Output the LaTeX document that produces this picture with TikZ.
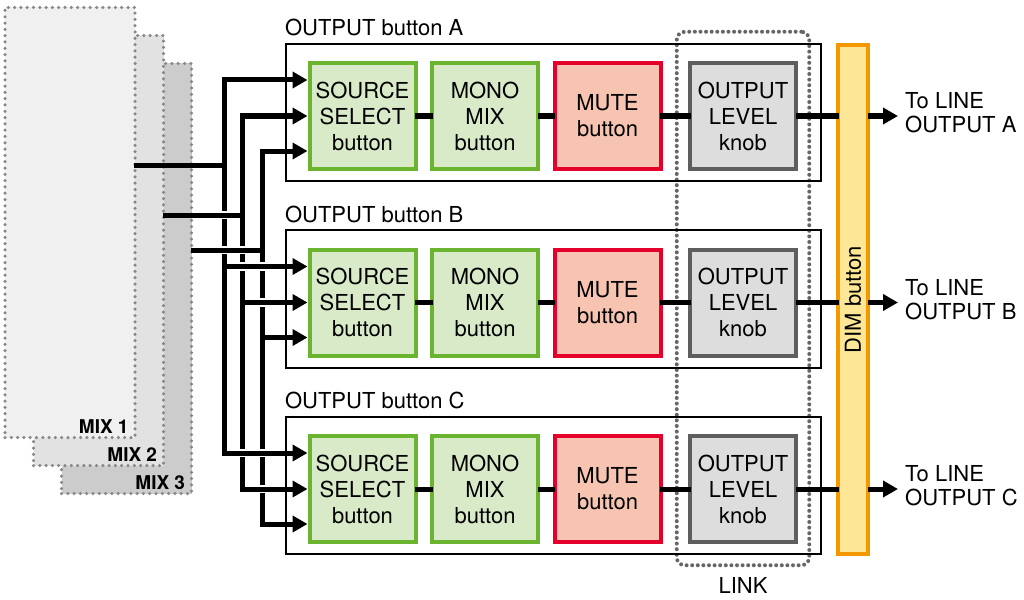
\documentclass[tikz,border=0pt]{standalone}
\usepackage{fontspec}
\setmainfont{TeX Gyre Heros}
\usetikzlibrary{arrows.meta}

\definecolor{selgreen}{HTML}{6BB42F}
\definecolor{selfill}{HTML}{D9EAC9}
\definecolor{mutered}{HTML}{E4002B}
\definecolor{mutefill}{HTML}{F6C4B0}
\definecolor{knobgray}{HTML}{5E5E5E}
\definecolor{knobfill}{HTML}{DCDDDC}
\definecolor{dimorange}{HTML}{F39800}
\definecolor{dimfill}{HTML}{FDE796}
\definecolor{mixa}{HTML}{F0F0F0}
\definecolor{mixb}{HTML}{E1E2E1}
\definecolor{mixc}{HTML}{CBCCCB}
\definecolor{mixdot}{HTML}{888888}
\definecolor{linkdot}{HTML}{666666}

\begin{document}
\begin{tikzpicture}[x=1pt,y=-1pt,
  every node/.style={font=\fontsize{22}{26}\selectfont},
  mixpanel/.style={draw=mixdot,line width=3.5pt,dash pattern=on 0pt off 6.3pt,
    line cap=round,minimum width=130pt,minimum height=430pt},
  mixlabel/.style={font=\fontsize{19}{20}\selectfont\bfseries,anchor=base east,inner sep=0pt},
  unit/.style={line width=4pt,minimum width=106pt,minimum height=106pt,align=center,inner sep=0pt},
  srcbox/.style={unit,draw=selgreen,fill=selfill},
  mutebox/.style={unit,draw=mutered,fill=mutefill},
  knobbox/.style={unit,draw=knobgray,fill=knobfill},
  grpframe/.style={draw,line width=1.8pt,minimum width=535.5pt,minimum height=137.5pt},
  linkframe/.style={draw=linkdot,line width=4pt,dash pattern=on 0pt off 5.6pt,line cap=round,
    rounded corners=8pt,minimum width=132.5pt,minimum height=533.5pt},
  dimbox/.style={draw=dimorange,fill=dimfill,line width=4pt,minimum width=30pt,minimum height=509pt},
  wire/.style={line width=5pt,line cap=rect},
  mixwire/.style={wire,preaction={draw=white,line width=8.5pt,line cap=butt,shorten <=#1,shorten >=2.5pt}},
  feed/.style={wire,-{Triangle[length=15pt,width=16pt]},
    preaction={draw=white,line width=8.5pt,line cap=butt,-,shorten <=2.5pt,shorten >=30pt}}
  ]
  \useasboundingbox (0,0) rectangle (1024,599);

  % mix panels, back to front
  \node[mixpanel,fill=mixc] (mix3) at (126.5,278.5) {};
  \node[mixlabel] (mixlbl3) at ([xshift=-8pt,yshift=6pt]mix3.south east) {MIX 3};
  \node[mixpanel,fill=mixb] (mix2) at (98.5,250.5) {};
  \node[mixlabel] (mixlbl2) at ([xshift=-8pt,yshift=6pt]mix2.south east) {MIX 2};
  \node[mixpanel,fill=mixa] (mix1) at (70,222.5) {};
  \node[mixlabel] (mixlbl1) at ([xshift=-8pt,yshift=6pt]mix1.south east) {MIX 1};

  % link frame
  \node[linkframe] (link) at (743,298.5) {};
  \node[anchor=base] (linklbl) at ([yshift=-26.5pt]link.south) {LINK};

  % output rows
  \foreach \r/\cy in {A/116,B/302.5,C/489} {
    \node[grpframe] (grp-\r) at (553.5,\cy-3.5) {};
    \node[anchor=base west,inner sep=0pt] (grplbl-\r) at ([yshift=7pt]grp-\r.north west) {OUTPUT button \r};
    \node[srcbox] (src-\r) at (362.5,\cy) {SOURCE\\SELECT\\button};
    \node[srcbox] (mono-\r) at (485,\cy) {MONO\\MIX\\button};
    \node[mutebox] (mute-\r) at (607.5,\cy) {MUTE\\button};
    \node[knobbox] (level-\r) at (743,\cy) {OUTPUT\\LEVEL\\knob};
    \node[anchor=west,align=left,inner xsep=7pt,inner ysep=0pt,
      font=\fontsize{22}{24}\selectfont] (out-\r) at (898,\cy-3) {To LINE\\OUTPUT \r};
    \coordinate (in1-\r) at ([yshift=36pt]src-\r.west);
    \coordinate (in2-\r) at (src-\r.west);
    \coordinate (in3-\r) at ([yshift=-35pt]src-\r.west);
    \draw[wire] (src-\r) -- (mono-\r);
    \draw[wire] (mono-\r) -- (mute-\r);
    \draw[wire] (mute-\r) -- (level-\r);
  }

  % buses
  \coordinate (j1) at (224,165);
  \coordinate (j2) at (242,215);
  \coordinate (j3) at (262,250);
  \draw[wire] (in1-A -| j1) -- (in1-C -| j1);
  \draw[wire] (in2-A -| j2) -- (in2-C -| j2);
  \draw[wire] (in3-A -| j3) -- (in3-C -| j3);
  \draw[wire] (mix1.east |- j1) -- (j1);
  \draw[mixwire=40pt] (mix2.east |- j2) -- (j2);
  \draw[mixwire=20pt] (mix3.east |- j3) -- (j3);
  \foreach \r in {A,B,C} {
    \draw[feed] (in1-\r -| j1) -- (in1-\r);
    \draw[feed] (in2-\r -| j2) -- (in2-\r);
    \draw[feed] (in3-\r -| j3) -- (in3-\r);
  }

  % dim button and outputs
  \node[dimbox] (dim) at (853,299.5) {};
  \foreach \r in {A,B,C} {
    \draw[wire] (level-\r) -- (level-\r -| dim.west);
    \draw[wire,-{Triangle[length=15pt,width=16pt]}] (level-\r -| dim.east) -- (out-\r.west |- level-\r);
  }
  \node[rotate=90] (dimtext) at (dim.center) {DIM button};
\end{tikzpicture}
\end{document}
